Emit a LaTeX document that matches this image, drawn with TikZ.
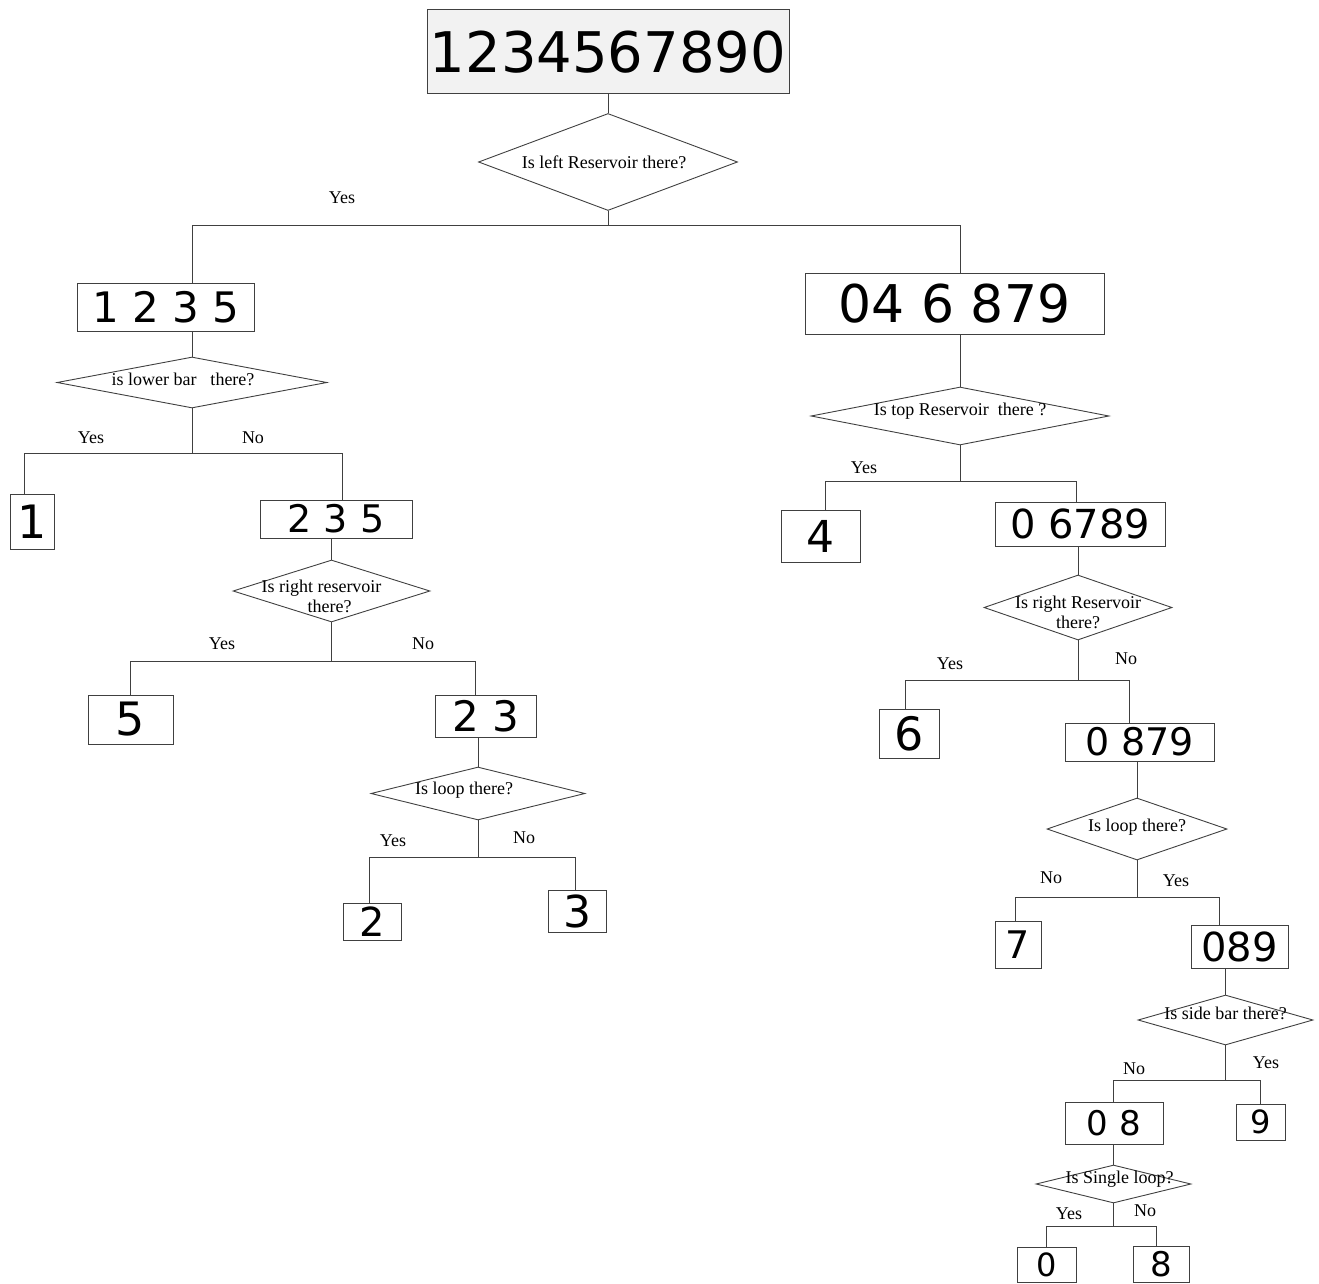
\documentclass[tikz,border=0pt]{standalone}
\usepackage{fontspec}
\setmainfont{Liberation Serif}
\newfontfamily\handfont{DejaVu Sans}
\newcommand{\digitfont}[1]{\handfont\fontsize{#1}{#1}\selectfont}
\usetikzlibrary{shapes.geometric, arrows, positioning}

\begin{document}
\begin{tikzpicture}[x=1pt, y=1pt, node distance=100pt]
\tikzstyle{decision} = [diamond, inner sep=0pt, draw=black!75, line width=0.9pt]
\tikzstyle{block} = [rectangle, inner sep=0pt, draw=black!75, line width=1pt, fill=white]
\tikzstyle{line} = [draw=black!75, line width=1pt]
\tikzstyle{ans} = [inner sep=0pt, align=center, font=\fontsize{18}{20}\selectfont]

\useasboundingbox (0,0) rectangle (1319,-1284);

% start: all the digits
\node (root) [block, fill=gray!10, minimum width=362pt, minimum height=84pt, font=\digitfont{56}] at (608,-52) {1234567890};
\node (dec1) [decision, minimum width=259pt, minimum height=97pt, node distance=110pt, below of=root, label={[ans, xshift=-4pt]center:Is left Reservoir there?}] {};

% left part
\node (b1235) [block, minimum width=177pt, minimum height=48pt, font=\digitfont{42}, node distance=145pt, below of=dec1, xshift=-442.5pt] {1 2 3 5};
\node (dec2) [decision, minimum width=270pt, minimum height=51pt, node distance=75.5pt, below of=b1235, xshift=26.5pt, label={[ans, xshift=-9pt, yshift=3pt]center:is lower bar\hspace{14pt}there?}] {};
\node (b1) [block, minimum width=44pt, minimum height=55pt, font=\digitfont{46}, node distance=139pt, below of=dec2, xshift=-160pt] {1};
\node (b235) [block, minimum width=152pt, minimum height=38pt, font=\digitfont{38}, node distance=136.5pt, below of=dec2, xshift=144pt] {2 3 5};
\node (dec3) [decision, minimum width=197pt, minimum height=62pt, node distance=72pt, below of=b235, xshift=-4.5pt, label={[ans, xshift=-10pt, yshift=-5pt]center:Is right reservoir\\\hspace{16pt}there?}] {};
\node (b5) [block, minimum width=85pt, minimum height=49pt, font=\digitfont{46}, node distance=128.5pt, below of=dec3, xshift=-201pt] {5};
\node (b23) [block, minimum width=101pt, minimum height=42pt, font=\digitfont{42}, node distance=125pt, below of=dec3, xshift=154pt] {2 3};
\node (dec4) [decision, minimum width=214pt, minimum height=53pt, node distance=77.5pt, below of=b23, xshift=-7.5pt, label={[ans, xshift=-14pt, yshift=3pt]center:Is loop there?}] {};
\node (b2) [block, minimum width=58pt, minimum height=37pt, font=\digitfont{40}, node distance=128pt, below of=dec4, xshift=-106pt] {2};
\node (b3) [block, minimum width=58pt, minimum height=42pt, font=\digitfont{44}, node distance=117.5pt, below of=dec4, xshift=99pt] {3};

% right part
\node (b046879) [block, minimum width=299pt, minimum height=61pt, font=\digitfont{52}, node distance=141.5pt, below of=dec1, xshift=346.5pt] {04 6 879};
\node (dec5) [decision, minimum width=298pt, minimum height=58pt, node distance=112.5pt, below of=b046879, xshift=5.5pt, label={[ans, yshift=5pt]center:Is top Reservoir~ there ?}] {};
\node (b4) [block, minimum width=79pt, minimum height=52pt, font=\digitfont{44}, node distance=120pt, below of=dec5, xshift=-139.5pt] {4};
\node (b06789) [block, minimum width=170pt, minimum height=44pt, font=\digitfont{40}, node distance=108pt, below of=dec5, xshift=120pt] {0 6789};
\node (dec6) [decision, minimum width=188pt, minimum height=65pt, node distance=83.5pt, below of=b06789, xshift=-2pt, label={[ans, yshift=-5pt]center:Is right Reservoir\\there?}] {};
\node (b6) [block, minimum width=60pt, minimum height=49pt, font=\digitfont{46}, node distance=126pt, below of=dec6, xshift=-169pt] {6};
\node (b0879) [block, minimum width=149pt, minimum height=38pt, font=\digitfont{38}, node distance=134.5pt, below of=dec6, xshift=61.5pt] {0 879};
\node (dec7) [decision, minimum width=180pt, minimum height=62pt, node distance=87pt, below of=b0879, xshift=-2.5pt, label={[ans, yshift=2pt]center:Is loop there?}] {};
\node (b7) [block, minimum width=46pt, minimum height=47pt, font=\digitfont{38}, node distance=115.5pt, below of=dec7, xshift=-119pt] {7};
\node (b089) [block, minimum width=97pt, minimum height=43pt, font=\digitfont{40}, node distance=117.5pt, below of=dec7, xshift=102.5pt] {089};
\node (dec8) [decision, minimum width=175pt, minimum height=50pt, node distance=73.5pt, below of=b089, xshift=-14pt, label={[ans, yshift=7pt]center:Is side bar there?}] {};
\node (b08) [block, minimum width=98pt, minimum height=42pt, font=\digitfont{34}, node distance=103pt, below of=dec8, xshift=-111.5pt] {0 8};
\node (b9) [block, minimum width=49pt, minimum height=36pt, font=\digitfont{32}, node distance=102pt, below of=dec8, xshift=35pt] {9};
\node (dec9) [decision, minimum width=155pt, minimum height=38pt, node distance=61pt, below of=b08, xshift=-0.5pt, label={[ans, xshift=6pt, yshift=5pt]center:Is Single loop?}] {};
\node (b0) [block, minimum width=59pt, minimum height=35pt, font=\digitfont{32}, node distance=80.5pt, below of=dec9, xshift=-67pt] {0};
\node (b8) [block, minimum width=56pt, minimum height=36pt, font=\digitfont{34}, node distance=80pt, below of=dec9, xshift=47.5pt] {8};

% connectors
\path [line] (root) -- (dec1);
\path [line] (dec1.south) -- ++(0,-14.5) coordinate (j1);
\path [line] (j1) -| (b1235.north -| dec2.north);
\path [line] (j1) -| (b046879.north -| dec5.north);

\path [line] (b1235.south -| dec2.north) -- (dec2.north);
\path [line] (dec2.south) -- ++(0,-45) coordinate (j2);
\path [line] (j2) -| ([xshift=-8pt]b1.north);
\path [line] (j2) -| ([xshift=6pt]b235.north);
\path [line] (b235.south -| dec3.north) -- (dec3.north);
\path [line] (dec3.south) -- ++(0,-39) coordinate (j3);
\path [line] (j3) -| (b5.north);
\path [line] (j3) -| ([xshift=-10pt]b23.north);
\path [line] (b23.south -| dec4.north) -- (dec4.north);
\path [line] (dec4.south) -- ++(0,-37) coordinate (j4);
\path [line] (j4) -| ([xshift=-3pt]b2.north);
\path [line] (j4) -| ([xshift=-2pt]b3.north);

\path [line] (b046879.south -| dec5.north) -- (dec5.north);
\path [line] (dec5.south) -- ++(0,-36) coordinate (j5);
\path [line] (j5) -| ([xshift=4.5pt]b4.north);
\path [line] (j5) -| ([xshift=-4pt]b06789.north);
\path [line] (b06789.south -| dec6.north) -- (dec6.north);
\path [line] (dec6.south) -- ++(0,-40) coordinate (j6);
\path [line] (j6) -| ([xshift=-4pt]b6.north);
\path [line] (j6) -| ([xshift=-10.5pt]b0879.north);
\path [line] (b0879.south -| dec7.north) -- (dec7.north);
\path [line] (dec7.south) -- ++(0,-37) coordinate (j7);
\path [line] (j7) -| ([xshift=-3pt]b7.north);
\path [line] (j7) -| ([xshift=-20.5pt]b089.north);
\path [line] (b089.south -| dec8.north) -- (dec8.north);
\path [line] (dec8.south) -- ++(0,-35) coordinate (j8);
\path [line] (j8) -| ([xshift=-1pt]b08.north);
\path [line] (j8) -| (b9.north);
\path [line] (b08.south -| dec9.north) -- (dec9.north);
\path [line] (dec9.south) -- ++(0,-23) coordinate (j9);
\path [line] (j9) -| (b0.north);
\path [line] (j9) -| ([xshift=-5pt]b8.north);

% answers
\node (y1) [ans] at ([shift={(-266,28)}]j1) {Yes};
\node (y2) [ans] at ([shift={(-101,16)}]j2) {Yes};
\node (n2) [ans] at ([shift={(61,16)}]j2) {No};
\node (y3) [ans] at ([shift={(-109.5,18)}]j3) {Yes};
\node (n3) [ans] at ([shift={(91.5,18)}]j3) {No};
\node (y4) [ans] at ([shift={(-85,17)}]j4) {Yes};
\node (n4) [ans] at ([shift={(46,20)}]j4) {No};
\node (y5) [ans] at ([shift={(-96,14)}]j5) {Yes};
\node (y6) [ans] at ([shift={(-128,17)}]j6) {Yes};
\node (n6) [ans] at ([shift={(48,22)}]j6) {No};
\node (n7) [ans] at ([shift={(-86,20)}]j7) {No};
\node (y7) [ans] at ([shift={(39,17)}]j7) {Yes};
\node (n8) [ans] at ([shift={(-91.5,12)}]j8) {No};
\node (y8) [ans] at ([shift={(40.5,18)}]j8) {Yes};
\node (y9) [ans] at ([shift={(-44.5,13)}]j9) {Yes};
\node (n9) [ans] at ([shift={(31.5,16)}]j9) {No};

\end{tikzpicture}
\end{document}
